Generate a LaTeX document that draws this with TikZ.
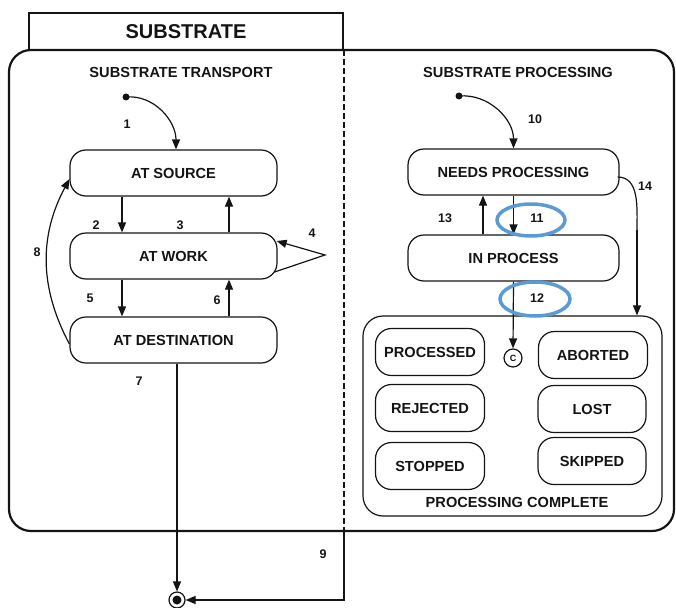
\documentclass[tikz,border=0pt]{standalone}
\usepackage{fontspec}
\setmainfont{Liberation Sans}
\usetikzlibrary{arrows.meta}
\definecolor{hl}{RGB}{91,155,213}
\definecolor{ink}{RGB}{20,20,20}
\begin{document}
\begin{tikzpicture}[x=1pt,y=1pt, color=ink,
  state/.style={draw, line width=1.2pt, rounded corners=16pt, minimum width=207pt, minimum height=46pt, inner sep=0pt, font=\fontsize{14.6}{16}\selectfont\bfseries},
  small/.style={state, minimum width=109pt, minimum height=47pt},
  num/.style={inner sep=0pt, font=\fontsize{12.5}{14}\selectfont\bfseries},
  head/.style={inner sep=0pt, font=\fontsize{14.6}{16}\selectfont\bfseries},
  arr/.style={line width=1.2pt, -{Triangle[length=10pt,width=8pt]}},
  mark11/.style={draw=hl, line width=3.5pt}
]
\useasboundingbox (0,0) rectangle (676,-607);
% tab
\node[draw, line width=1.2pt, minimum width=314pt, minimum height=37pt, inner sep=0pt, font=\fontsize{20}{22}\selectfont\bfseries] (tab) at (186,-31.5) {SUBSTRATE};
% main box
\draw[line width=2.2pt, rounded corners=22pt] (9,-50) rectangle (674,-531);
\draw[line width=1.2pt, dash pattern=on 6pt off 3pt] (344,-50) -- (344,-531);

\node[head] (ht) at (181,-72) {SUBSTRATE TRANSPORT};
\node[head] (hp) at (518,-72) {SUBSTRATE PROCESSING};

% left states
\node[state] (src) at (173.5,-173) {AT SOURCE};
\node[state] (work) at (173.5,-256) {AT WORK};
\node[state] (dest) at (173.5,-340) {AT DESTINATION};
\fill (126,-97) circle (3.5pt) coordinate (init1);

% final state
\node[draw, circle, line width=1.2pt, minimum size=16pt, inner sep=0pt] (final) at (177,-600) {};
\fill (final.center) circle (4.5pt);

% right states
\node[state, minimum width=211pt] (np) at (513.5,-172) {NEEDS PROCESSING};
\node[state, minimum width=211pt] (ip) at (513.5,-258) {IN PROCESS};
\fill (459,-96) circle (3.5pt) coordinate (init2);

\node[draw, line width=1.2pt, rounded corners=20pt, minimum width=299pt, minimum height=200pt, inner sep=0pt] (pc) at (512.5,-416) {};
\node[head] (pcl) at (517,-502) {PROCESSING COMPLETE};
\node[small] (processed) at (430,-352) {PROCESSED};
\node[small] (rejected) at (430,-408) {REJECTED};
\node[small] (stopped) at (430,-466) {STOPPED};
\node[small] (aborted) at (593,-355) {ABORTED};
\node[small, minimum width=108pt] (lost) at (592,-409) {LOST};
\node[small, minimum width=108pt] (skipped) at (592,-461) {SKIPPED};
\node[draw, circle, line width=1.2pt, minimum size=18pt, inner sep=0pt, font=\fontsize{9}{10}\selectfont\bfseries] (cc) at (513,-358) {C};

% left transitions
\draw[arr] (init1) to[out=5,in=90] ([xshift=2.5pt]src.north);
\draw[arr] ([xshift=-51.5pt]src.south) -- ([xshift=-51.5pt]work.north);
\draw[arr] ([xshift=55.5pt]work.north) -- ([xshift=55.5pt]src.south);
\coordinate (l4) at (325,-255);
\draw[arr] ([shift={(-3pt,-16pt)}]work.east) -- (l4) -- ([shift={(-1pt,15pt)}]work.east);
\draw[arr] ([xshift=-51.5pt]work.south) -- ([xshift=-51.5pt]dest.north);
\draw[arr] ([xshift=55.5pt]dest.north) -- ([xshift=55.5pt]work.south);
\draw[arr] ([yshift=-4pt]dest.west) to[out=118,in=242] ([yshift=-6pt]src.west);
\draw[arr] (dest.south -| final.north) -- (final.north);
\coordinate (d9) at (344,-531);
\draw[arr] (d9) |- (final.east);

% right transitions
\draw[arr] (init2) to[out=5,in=90] (np.north);
\draw[arr] (np.south) -- (ip.north);
\draw[arr] ([xshift=-30.5pt]ip.north) -- ([xshift=-30.5pt]np.south);
\draw[arr] (ip.south) -- (cc.north);
\coordinate (c14) at (637,-230);
\draw[line width=1.2pt] ([shift={(-2pt,-5pt)}]np.east) to[out=0,in=90] (c14);
\draw[arr] (c14) -- ([xshift=124.5pt]pc.north);

% labels
\node[num] (n1) at (127,-124) {1};
\node[num] (n2) at (96,-225) {2};
\node[num] (n3) at (180,-225) {3};
\node[num] (n4) at (312,-233) {4};
\node[num] (n5) at (90,-298) {5};
\node[num] (n6) at (217,-300) {6};
\node[num] (n7) at (139,-381) {7};
\node[num] (n8) at (37,-252) {8};
\node[num] (n9) at (323,-554) {9};
\node[num] (n10) at (535,-119) {10};
\node[num] (n11) at (537,-218) {11};
\node[num] (n12) at (537,-298) {12};
\node[num] (n13) at (445,-218) {13};
\node[num] (n14) at (645,-186) {14};

% highlight ellipses
\draw[mark11] (531,-220) ellipse [x radius=34pt, y radius=16pt];
\draw[mark11] (535,-299) ellipse [x radius=35pt, y radius=17pt];
\end{tikzpicture}
\end{document}
